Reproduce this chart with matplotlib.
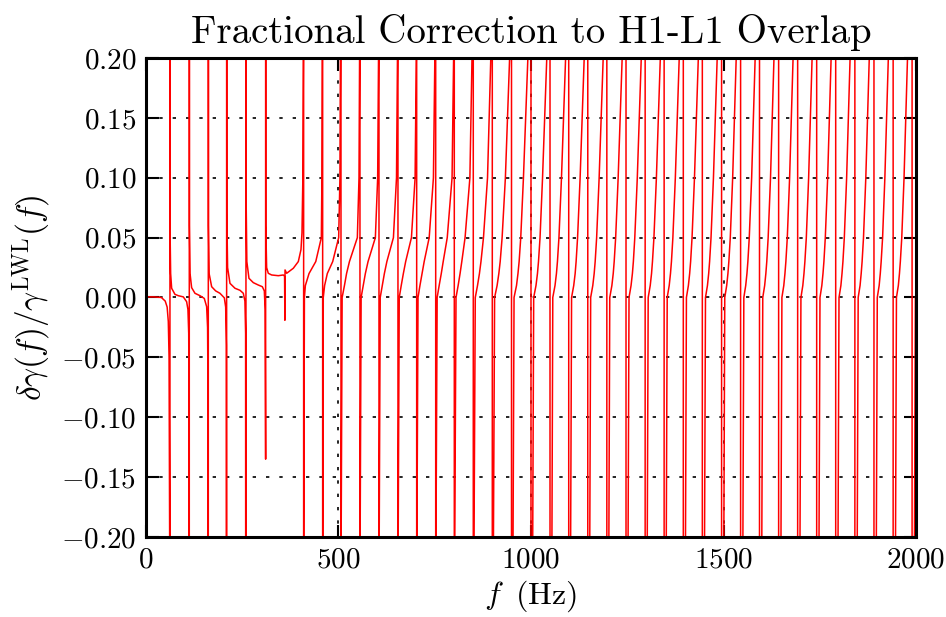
import matplotlib
matplotlib.use("Agg")
import matplotlib.pyplot as plt

plt.rcParams["font.family"] = "serif"
plt.rcParams["font.serif"] = ["cmr10"]
plt.rcParams["mathtext.fontset"] = "cm"
plt.rcParams["axes.formatter.use_mathtext"] = True

# value the ratio runs off to where gamma^LWL crosses zero (drawn past the axes)
pole_value = 1.0

# 0 - 410 Hz: falling branches
low_f = [0, 20, 40, 50, 55, 58, 60, 61.5, 62.3,
         62.3, 62.8, 64.1, 66.7, 75.3, 84, 97, 105.6, 109, 111, 112, 112.5,
         112.5, 113, 114.5, 118.6, 127.3, 140.3, 151.5, 157.6, 160, 161.5, 161.9,
         161.9, 162.4, 164, 170.6, 181, 192.2, 203.5, 207, 208.8, 209.5,
         209.5, 210, 212, 218.2, 231.2, 244.2, 252.8, 257, 258.8, 259.7,
         259.7, 260.2, 262, 267.5, 278.8, 291.8, 302.2, 307.4, 309.5, 310.8,
         310.8, 311.2, 313.4, 317.7, 326.4, 343.7, 356.7, 360.0, 360.8, 361.2,
         365.4, 382.7, 395.7, 402.6, 405.2, 407.5, 408.8]
low_y = [0.0005, 0.0005, 0.0, -0.003, -0.008, -0.02, -0.05, -0.2, -1.0,
         1.0, 0.05, 0.02, 0.0077, 0.0026, 0.0015, 0.0005, -0.0035, -0.01, -0.03, -0.1, -1.0,
         1.0, 0.06, 0.02, 0.0082, 0.0035, 0.0015, -0.0008, -0.0077, -0.025, -0.1, -1.0,
         1.0, 0.06, 0.02, 0.009, 0.0055, 0.0035, -0.0003, -0.008, -0.04, -1.0,
         1.0, 0.07, 0.025, 0.0118, 0.0077, 0.006, 0.0035, -0.003, -0.03, -1.0,
         1.0, 0.08, 0.03, 0.016, 0.0124, 0.0104, 0.009, 0.0055, -0.01, -0.135,
         1.0, 0.06, 0.025, 0.0202, 0.0188, 0.0182, 0.0188, 0.0178, -0.019, 0.023,
         0.0202, 0.0244, 0.030, 0.040, 0.054, 0.1, 0.2]

# above 410 Hz: rising branches, one starting at each pole
rise_poles = [409.5, 458.9, 506.5, 555.8, 605.2, 654.5, 703.1, 752.5, 800.8,
              850.1, 899.5, 949.4, 1000.0, 1049.4, 1098.0, 1147.5, 1197.0,
              1246.8, 1296.5, 1345.8, 1395.6, 1445.0, 1495.0, 1544.4, 1593.5,
              1643.2, 1692.6, 1742.0, 1791.4, 1841.2, 1890.8, 1940.6, 1989.8]
rise_levels = [-0.2, 0.0, 0.01, 0.02, 0.03, 0.05, 0.1, 0.2]
# distance in Hz from its pole at which each branch reaches each level
rise_offsets = [
    [0.3, 2.0, 4.5, 14.0, 31.5, 46.0, 47.5, 48.4],
    [0.3, 1.6, 5.1, 12.1, 26.1, 41.6, 44.9, 46.1],
    [0.5, 3.0, 9.0, 14.5, 22.0, 42.5, 46.8, 48.3],
    [0.5, 3.0, 8.5, 14.0, 21.0, 40.0, 46.0, 48.2],
    [0.6, 3.2, 8.5, 14.0, 20.5, 37.5, 45.5, 48.0],
    [0.6, 3.3, 8.5, 14.0, 20.0, 35.0, 44.5, 47.6],
    [0.7, 3.5, 8.5, 14.0, 19.5, 32.5, 43.5, 47.2],
    [0.8, 3.8, 9.0, 14.5, 19.5, 30.0, 42.5, 46.5],
    [1.2, 4.5, 10.0, 15.0, 19.5, 28.0, 40.5, 46.0],
    [2.0, 5.2, 11.0, 16.0, 20.0, 26.5, 37.0, 45.5],
    [3.0, 6.0, 12.5, 17.0, 20.5, 25.5, 34.0, 45.0],
    [4.0, 6.6, 13.0, 16.8, 19.8, 24.0, 31.0, 42.5],
    [4.5, 7.0, 13.0, 16.8, 19.5, 23.5, 30.0, 41.0],
    [5.0, 7.2, 13.0, 16.7, 19.3, 23.2, 29.8, 40.5],
    [5.0, 7.4, 13.0, 16.7, 19.2, 23.0, 29.6, 40.2],
    [5.2, 7.5, 13.0, 16.6, 19.2, 23.0, 29.5, 40.0],
    [5.3, 7.6, 13.1, 16.6, 19.1, 22.9, 29.4, 39.8],
    [5.4, 7.8, 13.1, 16.6, 19.1, 22.8, 29.3, 39.6],
    [5.5, 7.9, 13.2, 16.6, 19.0, 22.8, 29.2, 39.4],
    [5.6, 8.0, 13.2, 16.5, 19.0, 22.7, 29.1, 39.2],
    [5.7, 8.1, 13.2, 16.5, 19.0, 22.7, 29.0, 39.0],
    [5.8, 8.2, 13.3, 16.5, 18.9, 22.6, 28.9, 38.6],
    [5.9, 8.3, 13.3, 16.5, 18.9, 22.6, 28.8, 38.0],
    [6.0, 8.4, 13.3, 16.5, 18.9, 22.5, 28.7, 37.8],
    [6.0, 8.5, 13.4, 16.5, 18.9, 22.5, 28.6, 37.6],
    [6.1, 8.5, 13.4, 16.4, 18.8, 22.5, 28.5, 37.5],
    [6.1, 8.5, 13.4, 16.4, 18.8, 22.5, 28.5, 37.5],
    [6.1, 8.6, 13.4, 16.4, 18.8, 22.4, 28.5, 37.5],
    [6.1, 8.6, 13.5, 16.4, 18.8, 22.4, 28.4, 37.4],
    [6.2, 8.6, 13.5, 16.4, 18.8, 22.4, 28.4, 37.4],
    [6.2, 8.6, 13.5, 16.4, 18.7, 22.4, 28.3, 37.3],
    [6.2, 8.6, 13.5, 16.4, 18.7, 22.4, 28.3, 37.3],
    [6.2, 8.6],
]

x_ticks = [0, 500, 1000, 1500, 2000]
y_ticks = [-0.20, -0.15, -0.10, -0.05, 0.00, 0.05, 0.10, 0.15, 0.20]


def main():
    f = list(low_f)
    y = list(low_y)
    for pole, offsets in zip(rise_poles, rise_offsets):
        # jump across the pole, then climb through the levels
        f += [pole, pole]
        y += [pole_value, -pole_value]
        for d, level in zip(offsets, rise_levels):
            f.append(pole + d)
            y.append(level)

    fig = plt.figure(figsize=(9.46, 6.17), dpi=100)
    ax = fig.add_axes([0.1543, 0.1297, 0.8140, 0.7763])
    ax.plot(f, y, color="red", linewidth=1.1)

    ax.set_xlim(0, 2000)
    ax.set_ylim(-0.2, 0.2)
    ax.set_xticks(x_ticks)
    ax.set_yticks(y_ticks)
    ax.yaxis.set_major_formatter(plt.FormatStrFormatter(r"$%.2f$"))
    ax.xaxis.set_major_formatter(plt.FormatStrFormatter(r"$%d$"))
    ax.grid(True, color="black", linestyle=(0, (2, 6)), linewidth=1.2)
    ax.tick_params(direction="in", length=9, width=1.5, top=True, right=True,
                   labelsize=21, pad=7)
    for spine in ax.spines.values():
        spine.set_linewidth(2.2)

    ax.set_title("Fractional Correction to H1-L1 Overlap", fontsize=28, pad=11)
    ax.set_xlabel(r"$f\;\;(\mathrm{Hz})$", fontsize=23, labelpad=4)
    ax.set_ylabel(r"$\delta\gamma(f)/\gamma^{\rm LWL}(f)$", fontsize=24, labelpad=6)

    fig.savefig("out.png", dpi=100)


if __name__ == "__main__":
    main()
